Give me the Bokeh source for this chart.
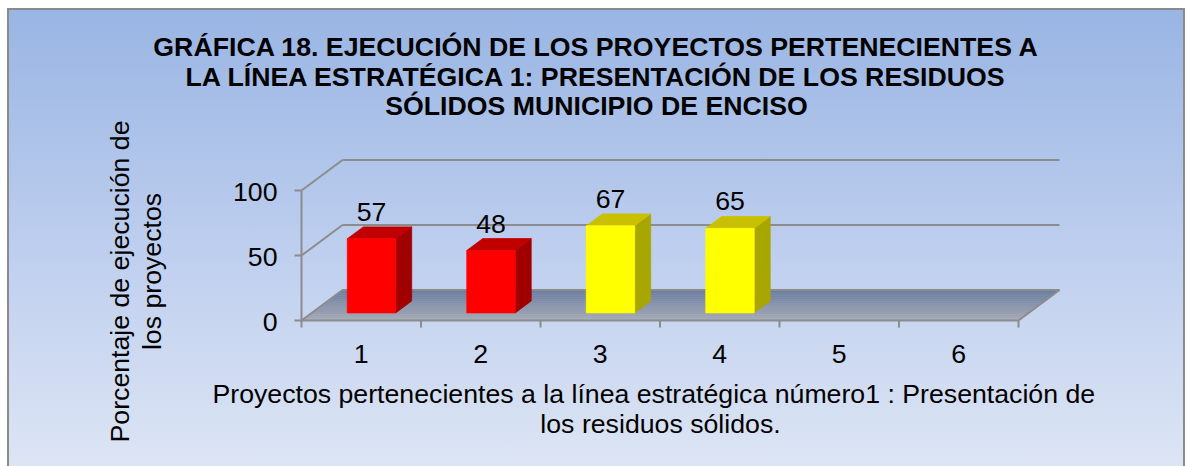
import numpy as np
from bokeh.plotting import figure
from bokeh.models import Range1d
from bokeh.embed import file_html
from bokeh.resources import INLINE
from bokeh.core.properties import value

# ---------------- data ----------------
categories = ["1", "2", "3", "4", "5", "6"]
projects = [1, 2, 3, 4]
execution = [57, 48, 67, 65]
bar_kind = ["red", "red", "yellow", "yellow"]
y_ticks = [0, 50, 100]
y_tick_labels = ["0", "50", "100"]
title_lines = [
    "GRÁFICA 18. EJECUCIÓN DE LOS PROYECTOS PERTENECIENTES A",
    "LA LÍNEA ESTRATÉGICA 1: PRESENTACIÓN DE LOS RESIDUOS",
    "SÓLIDOS MUNICIPIO DE ENCISO",
]
y_title_lines = ["Porcentaje de ejecución de", "los proyectos"]
x_title_lines = [
    "Proyectos  pertenecientes a la línea estratégica número1 : Presentación de",
    "los residuos sólidos.",
]

# ---------------- style / layout ----------------
FONT = "Liberation Sans"
FS = "26.7px"
W, H = 1186, 466
ORIGIN_X, ORIGIN_Y = 301, 320    # pixel position of (category 0, value 0)
PX_CAT = 119.5                   # px per category
PX_VAL = 1.30                    # px per percentage unit
DX = 41.0 / PX_CAT               # depth offset (category units)
DY = 30.5 / PX_VAL               # depth offset (value units)
F1, F2 = 0.25, 0.64              # bar front / back depth fractions
BAR_W = 0.405
TICK = 7                         # tick length px
FIX = 9                          # text anchor correction (px)
GREY = "#8c8c8c"
FACE = {"red": ("#ff0000", "#c00000", "#a00000"),
        "yellow": ("#ffff00", "#c8c000", "#a8a600")}
N = len(categories)


def px(fx, fy):
    """pixel position -> data coordinates (used only to place titles)"""
    return (fx - ORIGIN_X) / PX_CAT, (ORIGIN_Y - fy) / PX_VAL


p = figure(width=W, height=H, output_backend="svg", toolbar_location=None,
           x_range=Range1d(-ORIGIN_X / PX_CAT, (W - ORIGIN_X) / PX_CAT),
           y_range=Range1d((ORIGIN_Y - H) / PX_VAL, ORIGIN_Y / PX_VAL),
           x_axis_location=None, y_axis_location=None,
           min_border=0, min_border_left=0, min_border_right=0,
           min_border_top=0, min_border_bottom=0)
p.background_fill_color = None
p.border_fill_color = None
p.outline_line_color = None
p.grid.visible = False
bl = "linear-gradient(#8a8a8a,#8a8a8a)"
p.styles = {
    "background": (
        f"{bl} 7px 8px / 2px 458px no-repeat, "
        f"{bl} 7px 8px / 1178px 2px no-repeat, "
        f"{bl} 1183px 8px / 2px 458px no-repeat, "
        "linear-gradient(to bottom, #99b5e3 0%, #bccdee 50%, #dde5f4 100%) 7px 8px / 1178px 458px no-repeat, "
        "#ffffff"
    ),
}

# ---------------- floor (gradient strips) ----------------
front_rgb = np.array([168, 172, 182])
back_rgb = np.array([108, 126, 162])
NS = 16
fxs, fys, fcols = [], [], []
for k in range(NS):
    ta, tb = k / NS, (k + 1) / NS
    fxs.append([ta * DX, N + ta * DX, N + tb * DX, tb * DX])
    fys.append([ta * DY, ta * DY, tb * DY, tb * DY])
    c = front_rgb + (back_rgb - front_rgb) * (k + 0.5) / NS
    fcols.append("#%02x%02x%02x" % tuple(int(round(v)) for v in c))
p.patches(fxs, fys, fill_color=fcols, line_color=fcols, line_width=0.5)

# ---------------- walls: grid lines ----------------
gx0, gy0, gx1, gy1 = [], [], [], []
for v in y_ticks:
    gx0.append(DX); gy0.append(v + DY); gx1.append(N + DX); gy1.append(v + DY)   # back wall
    gx0.append(0); gy0.append(v); gx1.append(DX); gy1.append(v + DY)             # left wall
gx0.append(N); gy0.append(0); gx1.append(N + DX); gy1.append(DY)                 # floor right edge
p.segment(gx0, gy0, gx1, gy1, line_color=GREY, line_width=2)

# ---------------- axes (front) ----------------
tx = TICK / PX_CAT
ty = TICK / PX_VAL
ax0 = [0, 0] + list(range(N + 1)) + [0] * len(y_ticks)
ay0 = [0, 0] + [0] * (N + 1) + y_ticks
ax1 = [N, 0] + list(range(N + 1)) + [-tx] * len(y_ticks)
ay1 = [0, max(y_ticks)] + [-ty] * (N + 1) + y_ticks
p.segment(ax0, ay0, ax1, ay1, line_color=GREY, line_width=2)

p.text([i + 0.5 for i in range(N)], [0] * N, text=categories, text_align="center",
       text_baseline="alphabetic", y_offset=42 - FIX, text_font=value(FONT),
       text_font_size=FS, text_color="black")
p.text([0] * len(y_ticks), y_ticks, text=y_tick_labels, text_align="right",
       text_baseline="alphabetic", x_offset=-24, y_offset=10 - FIX, text_font=value(FONT),
       text_font_size=FS, text_color="black")

# ---------------- 3D bars ----------------
ddx, ddy = (F2 - F1) * DX, (F2 - F1) * DY
front_x, front_y, front_c = [], [], []
top_x, top_y, top_c = [], [], []
side_x, side_y, side_c = [], [], []
lab_x, lab_y, lab_t = [], [], []
for proj, val, kind in zip(projects, execution, bar_kind):
    c = proj - 0.5
    x0 = c - BAR_W / 2 + F1 * DX
    x1 = c + BAR_W / 2 + F1 * DX
    y0 = F1 * DY
    y1 = val + F1 * DY
    cf, ct, cs = FACE[kind]
    front_x.append([x0, x1, x1, x0]); front_y.append([y0, y0, y1, y1]); front_c.append(cf)
    top_x.append([x0, x1, x1 + ddx, x0 + ddx]); top_y.append([y1, y1, y1 + ddy, y1 + ddy]); top_c.append(ct)
    side_x.append([x1, x1 + ddx, x1 + ddx, x1]); side_y.append([y0, y0 + ddy, y1 + ddy, y1]); side_c.append(cs)
    lab_x.append(c + F1 * DX); lab_y.append(val + F2 * DY); lab_t.append(str(val))

p.patches(side_x, side_y, fill_color=side_c, line_color=side_c, line_width=0.8)
p.patches(top_x, top_y, fill_color=top_c, line_color=top_c, line_width=0.8)
p.patches(front_x, front_y, fill_color=front_c, line_color=front_c, line_width=0.8)

p.text(lab_x, lab_y, text=lab_t, text_align="center", text_baseline="alphabetic",
       y_offset=-6 - FIX, text_font=value(FONT), text_font_size=FS, text_color="black")

# ---------------- titles ----------------
tpos = [px(596, fy - FIX) for fy in (55, 85, 114)]
p.text([t[0] for t in tpos], [t[1] for t in tpos], text=title_lines, text_align="center",
       text_baseline="alphabetic", text_font=value(FONT), text_font_size=FS,
       text_font_style="bold", text_color="black")

ypos = [px(128 - FIX, 281), px(160 - FIX, 271)]
p.text([t[0] for t in ypos], [t[1] for t in ypos], text=y_title_lines, angle=np.pi / 2,
       text_align="center", text_baseline="alphabetic", text_font=value(FONT),
       text_font_size=FS, text_color="black")

xpos = [px(657, 402 - FIX), px(660, 432 - FIX)]
p.text([t[0] for t in xpos], [t[1] for t in xpos], text=x_title_lines, text_align="center",
       text_baseline="alphabetic", text_font=value(FONT), text_font_size=FS,
       text_color="black")

open("out.html", "w").write(file_html(p, INLINE))
